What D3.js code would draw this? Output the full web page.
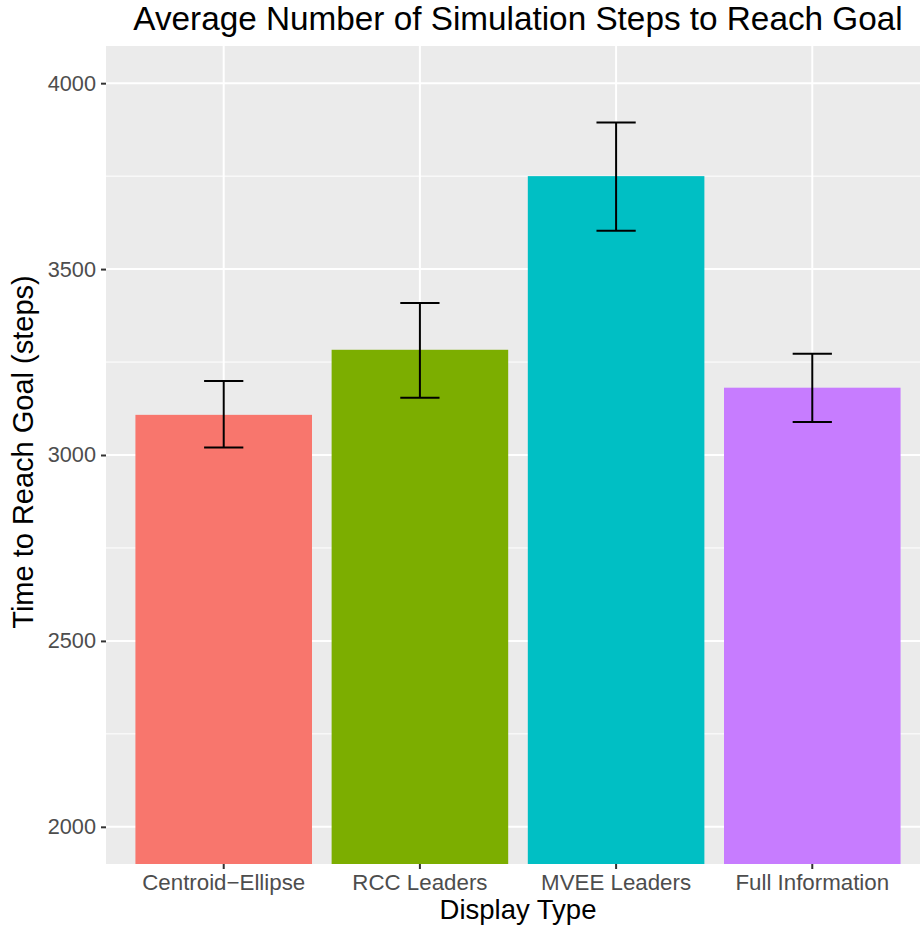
<!DOCTYPE html>
<html>
<head>
<meta charset="utf-8">
<script src="https://cdn.jsdelivr.net/npm/d3@7"></script>
<style>
  html, body { margin: 0; padding: 0; background: #fff; }
  svg { display: block; font-family: "Liberation Sans", Arial, sans-serif; }
</style>
</head>
<body>
<svg id="chart" width="920" height="928"></svg>
<script>
const categories = ["Centroid\u2212Ellipse", "RCC Leaders", "MVEE Leaders", "Full Information"];
const means = [3108, 3283, 3750, 3181];
const lowers = [3020, 3154, 3603, 3089];
const uppers = [3199, 3409, 3894, 3272];
const colors = ["#F8766D", "#7CAE00", "#00BFC4", "#C77CFF"];
const yTicks = [2000, 2500, 3000, 3500, 4000];
const yMinor = [2250, 2750, 3250, 3750];
const yDomain = [1900, 4100];

const data = categories.map((c, i) => ({ cat: c, mean: means[i], lo: lowers[i], hi: uppers[i], color: colors[i] }));

const svg = d3.select("#chart");
const panel = { left: 106, right: 930, top: 46, bottom: 864 };

const x = d3.scaleBand().domain(categories).range([panel.left, panel.right])
  .paddingInner(0.1).paddingOuter(0.15);
const y = d3.scaleLinear().domain(yDomain).range([panel.bottom, panel.top]);

svg.append("defs").append("clipPath").attr("id", "clip")
  .append("rect").attr("x", panel.left).attr("y", panel.top)
  .attr("width", panel.right - panel.left).attr("height", panel.bottom - panel.top);

svg.append("rect").attr("x", panel.left).attr("y", panel.top)
  .attr("width", panel.right - panel.left).attr("height", panel.bottom - panel.top)
  .attr("fill", "#EBEBEB");

const g = svg.append("g").attr("clip-path", "url(#clip)");

g.selectAll(".minor").data(yMinor).enter().append("line")
  .attr("x1", panel.left).attr("x2", panel.right)
  .attr("y1", d => y(d)).attr("y2", d => y(d))
  .attr("stroke", "#fff").attr("stroke-width", 1);
g.selectAll(".majory").data(yTicks).enter().append("line")
  .attr("x1", panel.left).attr("x2", panel.right)
  .attr("y1", d => y(d)).attr("y2", d => y(d))
  .attr("stroke", "#fff").attr("stroke-width", 2);
g.selectAll(".majorx").data(categories).enter().append("line")
  .attr("x1", d => x(d) + x.bandwidth() / 2).attr("x2", d => x(d) + x.bandwidth() / 2)
  .attr("y1", panel.top).attr("y2", panel.bottom)
  .attr("stroke", "#fff").attr("stroke-width", 2);

g.selectAll(".bar").data(data).enter().append("rect")
  .attr("x", d => x(d.cat)).attr("width", x.bandwidth())
  .attr("y", d => y(d.mean)).attr("height", d => y(0) - y(d.mean))
  .attr("fill", d => d.color);

const capHalf = x.step() * 0.1;
const eb = g.selectAll(".eb").data(data).enter().append("g")
  .attr("stroke", "#000").attr("stroke-width", 2).attr("fill", "none");
eb.append("line").attr("x1", d => x(d.cat) + x.bandwidth() / 2).attr("x2", d => x(d.cat) + x.bandwidth() / 2)
  .attr("y1", d => y(d.lo)).attr("y2", d => y(d.hi));
eb.append("line").attr("x1", d => x(d.cat) + x.bandwidth() / 2 - capHalf).attr("x2", d => x(d.cat) + x.bandwidth() / 2 + capHalf)
  .attr("y1", d => y(d.lo)).attr("y2", d => y(d.lo));
eb.append("line").attr("x1", d => x(d.cat) + x.bandwidth() / 2 - capHalf).attr("x2", d => x(d.cat) + x.bandwidth() / 2 + capHalf)
  .attr("y1", d => y(d.hi)).attr("y2", d => y(d.hi));

const yAxis = d3.axisLeft(y).tickValues(yTicks).tickSize(5).tickPadding(5).tickFormat(d3.format("d"));
const yg = svg.append("g").attr("transform", `translate(${panel.left},0)`).call(yAxis);
yg.select(".domain").remove();
yg.selectAll(".tick line").attr("stroke", "#333333").attr("stroke-width", 2);
yg.selectAll(".tick text").attr("fill", "#4D4D4D").attr("font-size", 21.7)
  .attr("font-family", "Liberation Sans, Arial, sans-serif");

const xAxis = d3.axisBottom(x).tickSize(5).tickPadding(5);
const xg = svg.append("g").attr("transform", `translate(0,${panel.bottom})`).call(xAxis);
xg.select(".domain").remove();
xg.selectAll(".tick line").attr("stroke", "#333333").attr("stroke-width", 2);
xg.selectAll(".tick text").attr("fill", "#4D4D4D").attr("font-size", 22.3)
  .attr("font-family", "Liberation Sans, Arial, sans-serif");

const cx = (panel.left + panel.right) / 2;
const cy = (panel.top + panel.bottom) / 2;

svg.append("text").attr("x", cx).attr("y", 30).attr("text-anchor", "middle")
  .attr("font-size", 33.3).attr("fill", "#000")
  .text("Average Number of Simulation Steps to Reach Goal");

svg.append("text").attr("x", cx).attr("y", 918.5).attr("text-anchor", "middle")
  .attr("font-size", 27.5).attr("fill", "#000").text("Display Type");

svg.append("text").attr("transform", `translate(33,${cy - 3}) rotate(-90)`).attr("text-anchor", "middle")
  .attr("font-size", 29).attr("fill", "#000").text("Time to Reach Goal (steps)");
</script>
</body>
</html>
